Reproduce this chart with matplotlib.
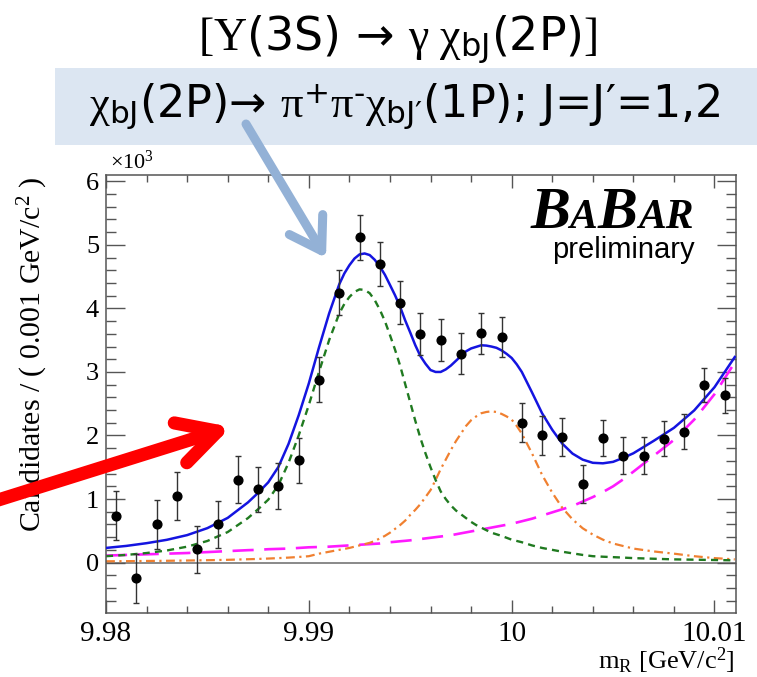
import numpy as np
import matplotlib.pyplot as plt
from matplotlib.patches import Rectangle, FancyArrowPatch, ArrowStyle
from matplotlib.ticker import MultipleLocator

plt.rcParams['font.family'] = 'Liberation Serif'
plt.rcParams['mathtext.fontset'] = 'custom'
plt.rcParams['mathtext.rm'] = 'Liberation Serif'
plt.rcParams['mathtext.it'] = 'Liberation Serif:italic'
plt.rcParams['mathtext.bf'] = 'Liberation Serif:bold'
plt.rcParams['mathtext.sf'] = 'DejaVu Sans'

# binned data (units of 10^3 candidates per MeV)
bin_centers = [9.9805, 9.9815, 9.9825, 9.9835, 9.9845, 9.9855, 9.9865, 9.9875,
               9.9885, 9.9895, 9.9905, 9.9915, 9.9925, 9.9935, 9.9945, 9.9955,
               9.9965, 9.9975, 9.9985, 9.9995, 10.0005, 10.0015, 10.0025, 10.0035,
               10.0045, 10.0055, 10.0065, 10.0075, 10.0085, 10.0095, 10.0105]
counts = [0.74, -0.25, 0.60, 1.05, 0.21, 0.60, 1.30, 1.15, 1.21, 1.61,
          2.88, 4.25, 5.12, 4.70, 4.09, 3.60, 3.50, 3.29, 3.61, 3.55,
          2.20, 2.00, 1.98, 1.24, 1.96, 1.68, 1.68, 1.95, 2.06, 2.80, 2.63]
errors = [0.39, 0.39, 0.39, 0.38, 0.37, 0.37, 0.37, 0.36, 0.36, 0.35,
          0.355, 0.35, 0.355, 0.34, 0.34, 0.335, 0.335, 0.33, 0.32, 0.32,
          0.31, 0.31, 0.30, 0.30, 0.29, 0.29, 0.29, 0.28, 0.28, 0.27, 0.27]

# fit components sampled along m_R (finer steps around the two peaks)
mass = [9.980, 9.981, 9.982, 9.983, 9.984, 9.985, 9.986, 9.987, 9.9875, 9.988,
        9.9885, 9.989, 9.9895, 9.990, 9.9905, 9.991,
        9.9915, 9.99175, 9.992, 9.99225, 9.9925, 9.99275, 9.993, 9.99325, 9.9935, 9.99375,
        9.994, 9.99425, 9.9945, 9.99475, 9.995, 9.99525, 9.9955, 9.99575, 9.996, 9.99625,
        9.9965, 9.99675, 9.997, 9.99725, 9.9975, 9.99775, 9.998, 9.99825, 9.9985, 9.99875,
        9.999, 9.99925, 9.9995, 9.99975, 10.000, 10.00025, 10.0005,
        10.001, 10.0015, 10.002, 10.0025, 10.003, 10.0035, 10.004, 10.0045, 10.005,
        10.0055, 10.006, 10.007, 10.008, 10.009, 10.010, 10.011]
peak_low = [0.10, 0.12, 0.15, 0.19, 0.25, 0.34, 0.48, 0.70, 0.84, 0.99,
            1.22, 1.57, 2.00, 2.48, 3.00, 3.50,
            3.92, 4.07, 4.18, 4.26, 4.30, 4.29, 4.24, 4.13, 3.98, 3.80,
            3.58, 3.35, 3.10, 2.81, 2.52, 2.23, 1.96, 1.72, 1.50, 1.30,
            1.12, 1.00, 0.90, 0.82, 0.76, 0.70, 0.64, 0.59, 0.55, 0.51,
            0.47, 0.445, 0.42, 0.39, 0.36, 0.34, 0.32,
            0.27, 0.23, 0.20, 0.17, 0.145, 0.12, 0.10, 0.092, 0.085,
            0.078, 0.07, 0.06, 0.05, 0.045, 0.04, 0.035]
peak_high = [0.020, 0.022, 0.025, 0.028, 0.032, 0.037, 0.043, 0.052, 0.057, 0.063,
             0.070, 0.078, 0.088, 0.10, 0.14, 0.17,
             0.20, 0.215, 0.23, 0.25, 0.27, 0.29, 0.31, 0.34, 0.38, 0.42,
             0.47, 0.53, 0.59, 0.66, 0.75, 0.83, 0.92, 1.03, 1.14, 1.30,
             1.47, 1.62, 1.77, 1.91, 2.03, 2.15, 2.24, 2.30, 2.35, 2.37,
             2.38, 2.37, 2.34, 2.30, 2.25, 2.15, 2.03,
             1.72, 1.38, 1.10, 0.86, 0.68, 0.54, 0.44, 0.36, 0.30,
             0.26, 0.22, 0.175, 0.14, 0.10, 0.07, 0.05]
background = [0.11, 0.12, 0.13, 0.14, 0.15, 0.165, 0.18, 0.195, 0.20, 0.21,
              0.215, 0.22, 0.23, 0.24, 0.245, 0.25,
              0.26, 0.265, 0.27, 0.275, 0.28, 0.285, 0.29, 0.295, 0.30, 0.31,
              0.32, 0.327, 0.335, 0.342, 0.35, 0.36, 0.37, 0.38, 0.39, 0.40,
              0.41, 0.42, 0.43, 0.445, 0.46, 0.475, 0.49, 0.505, 0.52, 0.535,
              0.55, 0.565, 0.58, 0.595, 0.61, 0.63, 0.65,
              0.69, 0.74, 0.79, 0.84, 0.89, 0.96, 1.03, 1.11, 1.20,
              1.31, 1.43, 1.68, 1.93, 2.25, 2.65, 3.15]
total = np.array(peak_low) + np.array(peak_high) + np.array(background)

xticks = [9.98, 9.99, 10.0, 10.01]
xticklabels = ['9.98', '9.99', '10', '10.01']
yticks = [0, 1, 2, 3, 4, 5, 6]

W, H = 757, 677
fig = plt.figure(figsize=(W / 100, H / 100), dpi=100)
ax = fig.add_axes([106 / W, 1 - 613 / H, 630 / W, 438 / H])

ax.axhline(0, color='#808080', lw=1.3, zorder=1)
ax.plot(mass, background, color='#ff1aff', lw=1.9, dashes=(8, 4), zorder=2)
ax.plot(mass, peak_high, color='#f08030', lw=1.6, dashes=(4, 2, 1, 2), zorder=2)
ax.plot(mass, peak_low, color='#207a20', lw=1.7, dashes=(3, 2.2), zorder=2)
ax.plot(mass, total, color='#1414e0', lw=1.8, zorder=3, solid_joinstyle='round')
ax.errorbar(bin_centers, counts, yerr=errors, fmt='o', color='black', ms=6.3,
            ecolor='#333333', elinewidth=1.0, capsize=2, capthick=1.0, zorder=4)

ax.set_xlim(9.98, 10.01106)
ax.set_ylim(-0.794, 6.10)
ax.set_xticks(xticks)
ax.set_xticklabels(xticklabels)
ax.set_yticks(yticks)
ax.xaxis.set_minor_locator(MultipleLocator(0.002))
ax.yaxis.set_minor_locator(MultipleLocator(0.2))
ax.tick_params(axis='x', which='major', direction='in', length=9.5, width=1,
               color='#555555', top=True, labelsize=21, pad=6)
ax.tick_params(axis='x', which='minor', direction='in', length=5, width=1,
               color='#555555', top=True)
ax.tick_params(axis='y', which='major', direction='in', length=13.5, width=1,
               color='#555555', right=True, labelsize=19, pad=5)
ax.tick_params(axis='y', which='minor', direction='in', length=7, width=1,
               color='#555555', right=True)
for s in ax.spines.values():
    s.set_color('#555555')
    s.set_linewidth(1.1)

fig.text(110 / W, 1 - 169 / H, r'$\times\mathrm{10^{3}}$', fontsize=16,
         ha='left', va='baseline')
fig.text(33 / W, 1 - 176 / H, r'Candidates / ( 0.001 GeV/c$^{2}$ )',
         rotation=90, ha='center', va='top', fontsize=21.5)
fig.text(735 / W, 1 - 669 / H, r'm$_{\mathrm{R}}$ [GeV/c$^{2}$]',
         ha='right', va='baseline', fontsize=19)

# BaBar logo
logo = dict(family='Liberation Serif', weight='bold', style='italic',
            va='baseline', ha='left')
fig.text(531 / W, 1 - 228 / H, 'B', fontsize=43, **logo)
fig.text(569 / W, 1 - 228 / H, 'A', fontsize=30, **logo)
fig.text(598 / W, 1 - 228 / H, 'B', fontsize=43, **logo)
fig.text(638 / W, 1 - 228 / H, 'AR', fontsize=30, **logo)
fig.text(695 / W, 1 - 258 / H, 'preliminary', family='Liberation Sans',
         fontsize=21, ha='right', va='baseline')

# header
fig.add_artist(Rectangle((55 / W, 1 - 145 / H), 702 / W, 77 / H,
                         transform=fig.transFigure, facecolor='#dce6f2',
                         edgecolor='none', zorder=0))
line1 = r'$\mathrm{[Υ}$(3S) → $\mathrm{γ\ χ}_{\mathsf{bJ}}$(2P)$\mathrm{]}$'
line2 = (r'$\mathrm{χ}_{\mathsf{bJ}}$(2P)→ $\mathrm{π}^{\mathsf{+}}'
         r'\mathrm{π}^{\mathsf{‐}}\mathrm{χ}_{\mathsf{bJ\prime}}$(1P); J=J′=1,2')
fig.text(398 / W, 1 - 40 / H, line1, family='DejaVu Sans', fontsize=33,
         ha='center', va='center')
fig.text(405 / W, 1 - 106 / H, line2, family='DejaVu Sans', fontsize=32,
         ha='center', va='center')

# arrows
fig.add_artist(FancyArrowPatch(
    (246 / W, 1 - 124 / H), (326 / W, 1 - 258 / H), transform=fig.transFigure,
    arrowstyle=ArrowStyle('->', head_length=1.1, head_width=0.7),
    mutation_scale=20, color='#93b1d6', lw=6.5, capstyle='round',
    joinstyle='round', shrinkA=0, shrinkB=0, zorder=5))
fig.add_artist(FancyArrowPatch(
    (-5 / W, 1 - 501 / H), (231 / W, 1 - 427 / H), transform=fig.transFigure,
    arrowstyle=ArrowStyle('->', head_length=1.4, head_width=0.75),
    mutation_scale=20, color='#ff0000', lw=9.5, capstyle='round',
    joinstyle='round', shrinkA=0, shrinkB=0, zorder=5))

fig.savefig('out.png', dpi=100)
